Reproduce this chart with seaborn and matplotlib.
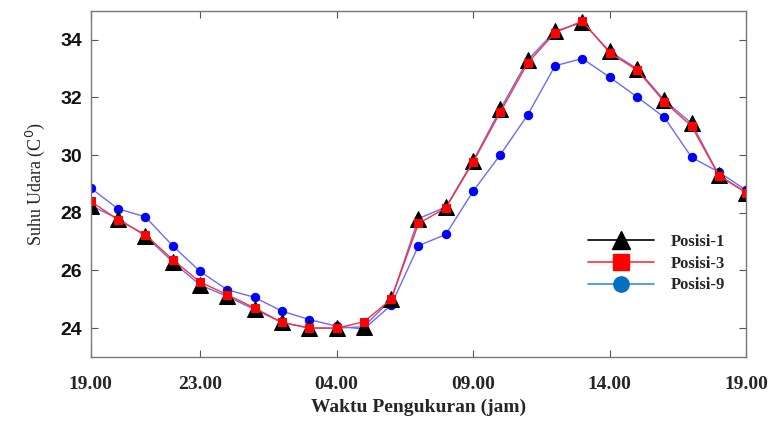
import numpy as np
import pandas as pd
import seaborn as sns
import matplotlib.pyplot as plt
from matplotlib.lines import Line2D

# jam pengukuran (0 = 19.00, 24 = 19.00 hari berikutnya)
jam = list(range(25))
posisi_1 = [28.25, 27.8, 27.2, 26.3, 25.5, 25.1, 24.65, 24.2, 24.0, 24.0, 24.05, 25.0, 27.8,
            28.2, 29.8, 31.6, 33.3, 34.3, 34.6, 33.6, 33.0, 31.9, 31.1, 29.3, 28.7]
posisi_3 = [28.4, 27.76, 27.24, 26.38, 25.6, 25.16, 24.7, 24.2, 24.01, 24.0, 24.22, 25.0, 27.63,
            28.17, 29.76, 31.5, 33.2, 34.25, 34.65, 33.55, 32.95, 31.85, 31.0, 29.28, 28.7]
posisi_9 = [28.86, 28.14, 27.86, 26.86, 25.97, 25.33, 25.07, 24.59, 24.3, 24.07, 23.97, 24.8, 26.86,
            27.25, 28.75, 30.02, 31.4, 33.1, 33.35, 32.7, 32.02, 31.31, 29.92, 29.41, 28.78]
tick_pos = [0, 4, 9, 14, 19, 24]
tick_lbl = ["19.00", "23.00", "04.00", "09.00", "14.00", "19.00"]

df = pd.DataFrame({"jam": jam, "p1": posisi_1, "p3": posisi_3, "p9": posisi_9})

sns.set_style("ticks")
fig = plt.figure(figsize=(7.75, 4.21), dpi=100)
ax = fig.add_axes([0.117, 0.152, 0.846, 0.822])

sns.lineplot(data=df, x="jam", y="p9", ax=ax, color="#6a6aff", lw=1.0,
             marker="o", markersize=6, markerfacecolor="#0000ff", markeredgecolor="#0000ff")
sns.lineplot(data=df, x="jam", y="p1", ax=ax, color="#6a6aff", lw=1.0,
             marker="^", markersize=12, markerfacecolor="black", markeredgecolor="black")
sns.lineplot(data=df, x="jam", y="p3", ax=ax, color="#ff3030", lw=1.0,
             marker="s", markersize=6, markerfacecolor="#ff0000", markeredgecolor="#ff0000")

ax.set_xlim(0, 24)
ax.set_ylim(23, 35)
ax.set_xticks(tick_pos)
ax.set_xticklabels(tick_lbl, family="Liberation Serif", fontweight="bold", fontsize=14)
ax.set_yticks([24, 26, 28, 30, 32, 34])
ax.set_yticklabels(["24", "26", "28", "30", "32", "34"], family="Liberation Sans",
                   fontweight="bold", fontsize=14, color="#111111")
ax.tick_params(direction="in", top=True, right=True, length=5, color="#555555")
ax.tick_params(axis="x", pad=14)
ax.tick_params(axis="y", pad=6)
for s in ax.spines.values():
    s.set_color("#777777")
    s.set_linewidth(1.0)

ax.set_xlabel("Waktu Pengukuran (jam)", family="Liberation Serif", fontweight="bold",
              fontsize=14, labelpad=4)
ax.set_ylabel("Suhu Udara (C$^0$)", family="Liberation Serif",
              fontsize=13, labelpad=10)

handles = [
    Line2D([], [], color="black", lw=1.2, marker="^", markersize=13, markerfacecolor="black"),
    Line2D([], [], color="#ff3030", lw=1.2, marker="s", markersize=11, markerfacecolor="#ff0000",
           markeredgecolor="#ff0000"),
    Line2D([], [], color="#3a8fd8", lw=1.2, marker="o", markersize=11, markerfacecolor="#0070c0",
           markeredgecolor="#0070c0"),
]
ax.legend(handles, ["Posisi-1", "Posisi-3", "Posisi-9"], loc="center left",
          bbox_to_anchor=(0.735, 0.27), frameon=False, handlelength=4.0,
          labelspacing=0.35, handletextpad=1.0,
          prop={"family": "Liberation Serif", "weight": "bold", "size": 12})

fig.savefig("out.png", dpi=100)
